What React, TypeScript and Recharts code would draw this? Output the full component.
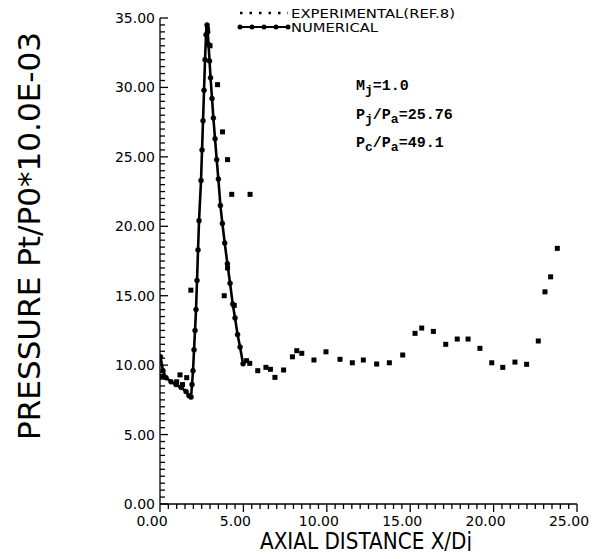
import React from "react";
import { ComposedChart, Line, Scatter, XAxis, YAxis, Label } from "recharts";

// numerical solution (solid line with dots)
const numX = [0.03, 0.18, 0.36, 0.66, 0.96, 1.26, 1.56, 1.74, 1.86, 1.92, 1.98, 2.04, 2.1, 2.16, 2.22, 2.28, 2.34, 2.46, 2.52, 2.58, 2.64, 2.7, 2.76, 2.82, 2.86, 2.91, 2.97, 3.03, 3.12, 3.2, 3.3, 3.4, 3.5, 3.62, 3.74, 3.88, 4.04, 4.2, 4.36, 4.5, 4.65, 4.8, 4.98];
const numY = [10.6, 9.6, 9.1, 8.8, 8.6, 8.4, 8.1, 7.8, 7.7, 8.6, 9.6, 11.1, 12.5, 14.0, 16.1, 18.3, 20.4, 23.3, 25.5, 27.6, 29.8, 32.0, 33.8, 34.5, 34.0, 33.1, 31.9, 30.7, 29.2, 27.8, 26.3, 24.8, 23.4, 21.5, 20.2, 18.8, 17.3, 15.9, 14.4, 13.4, 12.2, 11.3, 10.1];

// experimental points (ref. 8)
const expX = [0.12, 1.0, 1.2, 1.35, 1.6, 1.85, 2.85, 3.0, 3.45, 3.75, 4.05, 4.3, 5.4, 3.85, 4.05, 4.45, 5.19, 5.38, 5.86, 6.35, 6.62, 6.89, 7.41, 7.94, 8.2, 8.5, 9.23, 9.95, 10.79, 11.53, 12.19, 12.99, 13.75, 14.55, 15.29, 15.69, 16.39, 17.13, 17.82, 18.47, 19.18, 19.89, 20.55, 21.28, 21.98, 22.68, 23.08, 23.42, 23.82];
const expY = [9.2, 8.8, 9.3, 8.6, 9.1, 15.4, 34.2, 33.0, 30.2, 26.8, 24.8, 22.3, 22.3, 15.0, 17.0, 14.3, 10.32, 10.13, 9.6, 9.84, 9.7, 9.12, 9.65, 10.6, 11.04, 10.85, 10.37, 10.96, 10.42, 10.17, 10.37, 10.08, 10.17, 10.73, 12.29, 12.67, 12.43, 11.5, 11.88, 11.88, 11.21, 10.17, 9.84, 10.22, 10.06, 11.74, 15.28, 16.36, 18.41];

const xMajor = [0, 5, 10, 15, 20, 25];
const yMajor = [0, 5, 10, 15, 20, 25, 30, 35];
const xTicks = Array.from({ length: 51 }, (_, i) => i * 0.5);
const yTicks = Array.from({ length: 71 }, (_, i) => i * 0.5);

const numData = numX.map((x, i) => ({ x, y: numY[i] }));
const expData = expX.map((x, i) => ({ x, y: expY[i] }));

const FONT = "'DejaVu Sans', sans-serif";

const XTick = (props: any) => {
  const { x, y, payload } = props;
  const major = xMajor.includes(payload.value);
  return (
    <g>
      <line x1={x} x2={x} y1={y} y2={y + (major ? 8 : 5)} stroke="#000" strokeWidth={1.3} />
      {major && (
        <text x={x - 8} y={y + 22} textAnchor="middle" fontFamily={FONT} fontSize={14} fill="#000">
          {payload.value.toFixed(2)}
        </text>
      )}
    </g>
  );
};

const YTick = (props: any) => {
  const { x, y, payload } = props;
  const major = yMajor.includes(payload.value);
  return (
    <g>
      <line x1={x} x2={x + (major ? 8 : 5)} y1={y} y2={y} stroke="#000" strokeWidth={1.3} />
      {major && (
        <text x={x - 5} y={y + 5} textAnchor="end" fontFamily={FONT} fontSize={14} fill="#000">
          {payload.value.toFixed(2)}
        </text>
      )}
    </g>
  );
};

const Square = (props: any) => {
  const { cx, cy } = props;
  return <rect x={cx - 2.5} y={cy - 2.5} width={5} height={5} fill="#000" />;
};

const mono: React.CSSProperties = {
  position: "absolute",
  fontFamily: "'Liberation Mono', monospace",
  fontWeight: "bold",
  fontSize: 15,
  color: "#000",
  whiteSpace: "nowrap",
  lineHeight: 1,
};

export default function App() {
  return (
    <div style={{ position: "relative", width: 612, height: 559, margin: -8, background: "#fff" }}>
      <ComposedChart width={612} height={559} margin={{ top: 18, right: 35, bottom: 15, left: 100 }}>
        <XAxis
          type="number"
          dataKey="x"
          domain={[0, 25]}
          ticks={xTicks}
          interval={0}
          tick={<XTick />}
          tickLine={false}
          tickSize={0}
          tickMargin={0}
          height={40}
          stroke="#000"
          strokeWidth={1.3}
          allowDataOverflow
        >
          <Label
            content={() => (
              <text
                x={366}
                y={549}
                textAnchor="middle"
                fontFamily={FONT}
                fontSize={23}
                textLength={212}
                lengthAdjust="spacingAndGlyphs"
                fill="#000"
              >
                AXIAL DISTANCE X/Dj
              </text>
            )}
          />
        </XAxis>
        <YAxis
          type="number"
          dataKey="y"
          domain={[0, 35]}
          ticks={yTicks}
          interval={0}
          tick={<YTick />}
          tickLine={false}
          tickSize={0}
          tickMargin={0}
          width={60}
          stroke="#000"
          strokeWidth={1.3}
          allowDataOverflow
        >
          <Label
            content={() => (
              <text
                x={29}
                y={236}
                transform="rotate(-90 29 236)"
                textAnchor="middle"
                dominantBaseline="central"
                fontFamily={FONT}
                fontSize={30}
                textLength={408}
                lengthAdjust="spacingAndGlyphs"
                fill="#000"
              >
                PRESSURE Pt/P0*10.0E-03
              </text>
            )}
          />
        </YAxis>
        <Line
          data={numData}
          dataKey="y"
          type="linear"
          stroke="#000"
          strokeWidth={2.6}
          dot={{ r: 2.5, fill: "#000", stroke: "#000", strokeWidth: 0.5 }}
          isAnimationActive={false}
          name="NUMERICAL"
        />
        <Scatter data={expData} dataKey="y" shape={<Square />} isAnimationActive={false} name="EXPERIMENTAL" />
      </ComposedChart>
      <svg width={240} height={40} style={{ position: "absolute", left: 238, top: 2, overflow: "visible" }}>
        <line x1={2} x2={50} y1={11} y2={11} stroke="#000" strokeWidth={2.5} strokeDasharray="2.5 7" />
        <text x={53} y={16} fontFamily={FONT} fontSize={13} textLength={164} lengthAdjust="spacingAndGlyphs" fill="#000">
          EXPERIMENTAL(REF.8)
        </text>
        <line x1={2} x2={50} y1={25} y2={25} stroke="#000" strokeWidth={2} />
        {[2, 14, 26, 38, 50].map((d) => (
          <circle key={d} cx={d} cy={25} r={2.5} fill="#000" />
        ))}
        <text x={53} y={30} fontFamily={FONT} fontSize={13} textLength={87} lengthAdjust="spacingAndGlyphs" fill="#000">
          NUMERICAL
        </text>
      </svg>
      <div style={{ ...mono, left: 356, top: 79 }}>
        M<sub style={{ fontSize: 13 }}>j</sub>=1.0
      </div>
      <div style={{ ...mono, left: 356, top: 108 }}>
        P<sub style={{ fontSize: 13 }}>j</sub>/P<sub style={{ fontSize: 13 }}>a</sub>=25.76
      </div>
      <div style={{ ...mono, left: 356, top: 136 }}>
        P<sub style={{ fontSize: 13 }}>c</sub>/P<sub style={{ fontSize: 13 }}>a</sub>=49.1
      </div>
    </div>
  );
}
